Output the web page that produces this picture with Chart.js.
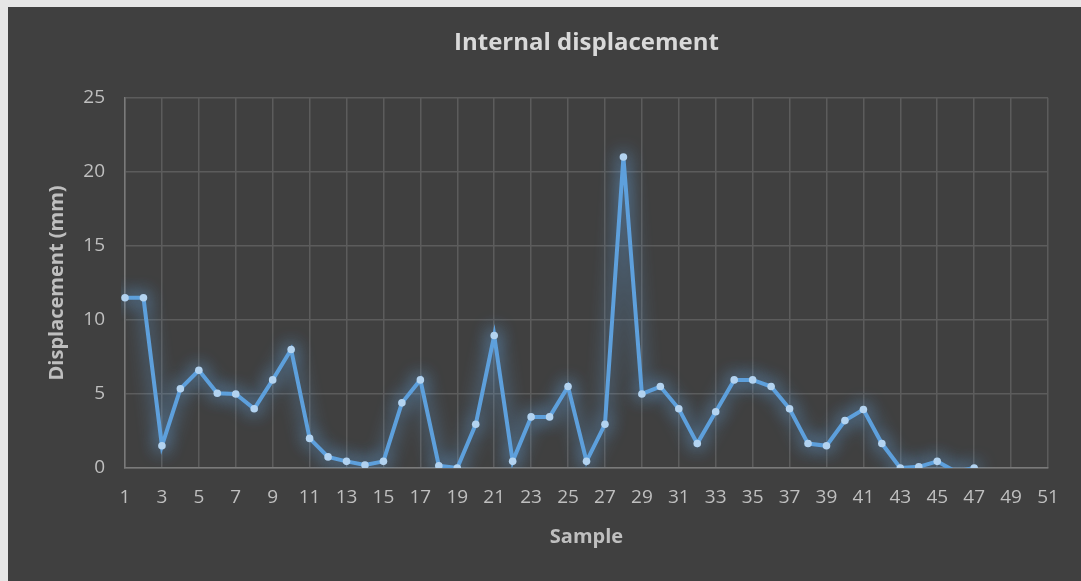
<!DOCTYPE html>
<html lang="en">
<head>
<meta charset="UTF-8">
<title>Internal displacement</title>
<script src="https://cdn.jsdelivr.net/npm/chart.js"></script>
<style>
  html, body { margin: 0; padding: 0; background: #e6e6e6; }
  #wrap { position: absolute; left: 8px; top: 7px; width: 1073px; height: 574px; background: #404040; }
</style>
</head>
<body>
<div id="wrap"><canvas id="myChart" width="1073" height="574"></canvas></div>
<script>
// samples 1..51
const samples = [];
for (let i = 1; i <= 51; i++) samples.push(String(i));

// displacement in mm (46 dips just under 0 and is clipped)
const displacement = [
  11.5, 11.5, 1.5, 5.35, 6.6, 5.05, 5.0, 4.0, 5.95, 8.0,
  2.0, 0.75, 0.45, 0.2, 0.45, 4.4, 5.95, 0.15, 0.0, 2.95,
  8.95, 0.45, 3.45, 3.45, 5.5, 0.45, 2.95, 21.0, 5.0, 5.5,
  4.0, 1.65, 3.8, 5.95, 5.95, 5.5, 4.0, 1.65, 1.5, 3.2,
  3.95, 1.65, 0.0, 0.08, 0.45, -0.25, 0.0, null, null, null, null
];

const yTicks = [0, 5, 10, 15, 20, 25];

// soft blue glow round the line and points
const glow = {
  id: 'glow',
  beforeDatasetsDraw(chart) {
    const c = chart.ctx;
    c.save();
    c.shadowColor = 'rgba(100,165,225,1)';
    c.shadowBlur = 18;
  },
  afterDatasetsDraw(chart) {
    chart.ctx.restore();
  }
};

const ctx = document.getElementById('myChart').getContext('2d');
const chart = new Chart(ctx, {
  type: 'line',
  data: {
    labels: samples,
    datasets: [{
      label: 'Displacement',
      data: displacement,
      borderColor: '#5ea0dc',
      borderWidth: 4,
      tension: 0,
      spanGaps: false,
      pointRadius: 3.8,
      pointBorderWidth: 0,
      pointBackgroundColor: '#b3d3f0'
    }]
  },
  options: {
    responsive: false,
    animation: false,
    layout: { padding: { left: 0, right: 33, top: 0, bottom: 10 } },
    plugins: {
      legend: { display: false },
      tooltip: { enabled: false },
      title: {
        display: true,
        fullSize: false,
        text: 'Internal displacement',
        color: '#d9d9d9',
        font: { family: 'Open Sans', size: 24, weight: 'bold' },
        padding: { top: 22, bottom: 40 }
      }
    },
    scales: {
      x: {
        afterFit: (s) => { s.height = 103; },
        grid: {
          color: (c) => (c.index % 2 === 0 ? '#5c5c5c' : 'transparent'),
          lineWidth: 1.5,
          drawTicks: false
        },
        border: { color: '#7a7a7a', width: 1.5 },
        ticks: {
          autoSkip: false,
          maxRotation: 0,
          color: '#bfbfbf',
          padding: 18.6,
          font: { family: 'Open Sans', size: 19 },
          callback: (v, i) => (i % 2 === 0 ? samples[i] : '')
        },
        title: {
          display: true,
          text: 'Sample',
          color: '#bfbfbf',
          font: { family: 'Open Sans', size: 20, weight: 'bold' },
          padding: { top: 0, bottom: 22 }
        }
      },
      y: {
        min: 0,
        max: 25,
        afterBuildTicks: (s) => { s.ticks = yTicks.map(v => ({ value: v })); },
        afterFit: (s) => { s.width = 117; },
        grid: { color: '#5c5c5c', lineWidth: 1.5, drawTicks: false },
        border: { color: '#7a7a7a', width: 1.5 },
        ticks: {
          color: '#bfbfbf',
          padding: 20,
          font: { family: 'Open Sans', size: 19 }
        },
        title: {
          display: true,
          text: 'Displacement (mm)',
          color: '#bfbfbf',
          font: { family: 'Open Sans', size: 20, weight: 'bold' },
          padding: { top: 37, bottom: 0 }
        }
      }
    }
  },
  plugins: [glow]
});
</script>
</body>
</html>
